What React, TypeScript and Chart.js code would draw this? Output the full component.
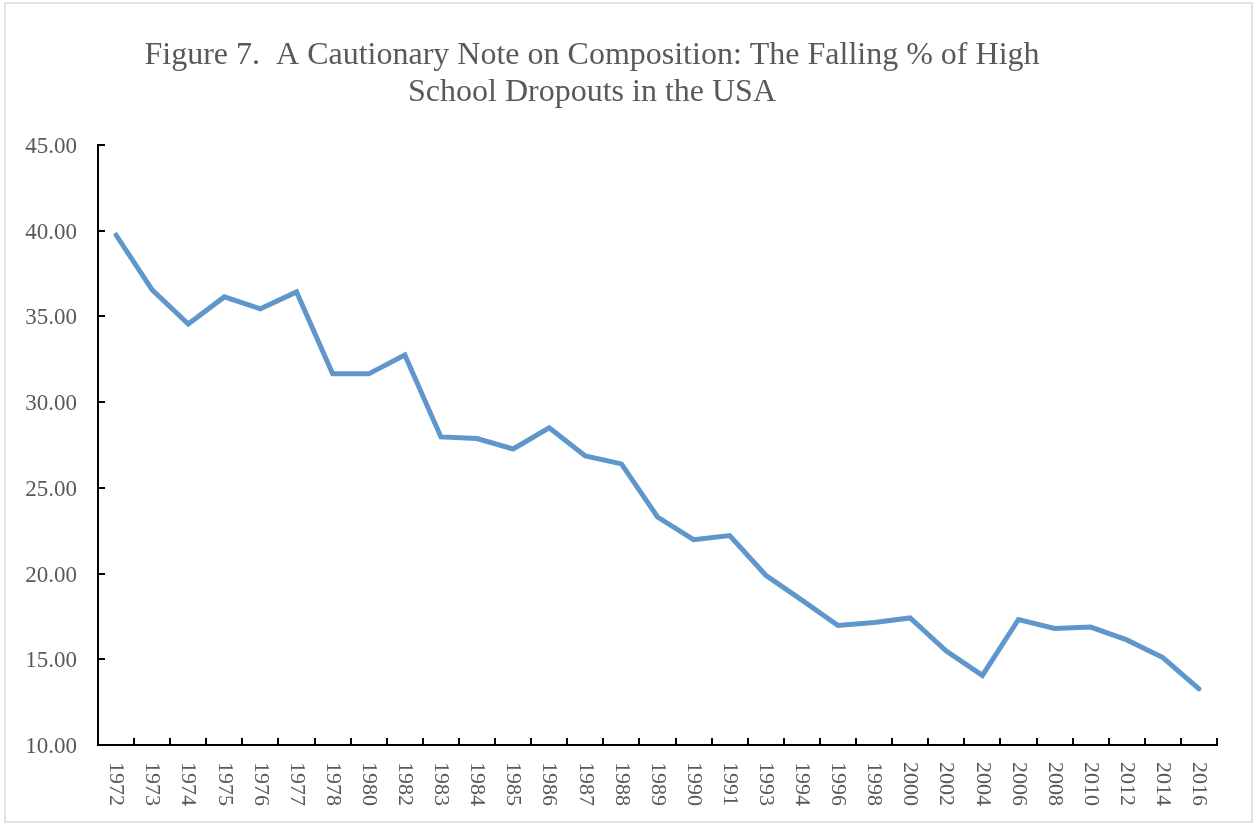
import React, { useEffect, useRef } from "react";
import { Chart, registerables } from "chart.js";

Chart.register(...registerables);

const titleLines = [
  "Figure 7.  A Cautionary Note on Composition: The Falling % of High",
  "School Dropouts in the USA",
];

const years = [
  "1972", "1973", "1974", "1975", "1976", "1977", "1978", "1980", "1982", "1983",
  "1984", "1985", "1986", "1987", "1988", "1989", "1990", "1991", "1993", "1994",
  "1996", "1998", "2000", "2002", "2004", "2006", "2008", "2010", "2012", "2014", "2016",
];

const dropoutPct = [
  39.75, 36.55, 34.56, 36.14, 35.44, 36.43, 31.65, 31.65, 32.75, 27.97,
  27.88, 27.27, 28.5, 26.86, 26.4, 23.3, 21.98, 22.22, 19.9, 18.45,
  16.97, 17.15, 17.41, 15.48, 14.06, 17.32, 16.8, 16.88, 16.13, 15.1, 13.27,
];

const yMin = 10;
const yMax = 45;
const yStep = 5;

const FONT = "'Liberation Serif', 'Times New Roman', serif";
const TEXT_COLOR = "#595959";

const titlePlugin = {
  id: "twoLineTitle",
  afterDraw(chart: any) {
    const ctx = chart.ctx;
    ctx.save();
    ctx.font = `32px ${FONT}`;
    ctx.fillStyle = TEXT_COLOR;
    ctx.textAlign = "center";
    ctx.textBaseline = "alphabetic";
    const cx = 592;
    titleLines.forEach((line, i) => {
      ctx.fillText(line, cx, 64 + i * 37);
    });
    ctx.restore();
  },
};

export default function App() {
  const canvasRef = useRef<HTMLCanvasElement | null>(null);

  useEffect(() => {
    const canvas = canvasRef.current;
    if (!canvas) return;
    const chart = new Chart(canvas, {
      type: "line",
      data: {
        labels: years,
        datasets: [
          {
            data: dropoutPct,
            borderColor: "#5F96CB",
            borderWidth: 5,
            pointRadius: 0,
            tension: 0,
            fill: false,
            borderCapStyle: "round",
            borderJoinStyle: "miter",
          },
        ],
      },
      options: {
        animation: false,
        responsive: false,
        devicePixelRatio: 1,
        layout: { padding: { top: 145, left: 0, right: 36, bottom: 0 } },
        plugins: {
          legend: { display: false },
          title: { display: false },
          tooltip: { enabled: false },
        },
        scales: {
          x: {
            type: "category",
            offset: true,
            grid: {
              display: true,
              drawOnChartArea: false,
              drawTicks: true,
              tickLength: -7,
              offset: true,
              color: "#000000",
              lineWidth: 2,
            },
            border: { display: true, color: "#000000", width: 2 },
            ticks: {
              autoSkip: false,
              minRotation: -90,
              maxRotation: -90,
              padding: 68,
              color: TEXT_COLOR,
              font: { family: FONT, size: 22 },
            },
            afterFit: (scale: any) => {
              scale.height = 80;
            },
          },
          y: {
            min: yMin,
            max: yMax,
            grid: {
              display: true,
              drawOnChartArea: false,
              drawTicks: true,
              tickLength: -7,
              color: "#000000",
              lineWidth: 2,
            },
            border: { display: true, color: "#000000", width: 2 },
            ticks: {
              stepSize: yStep,
              padding: 28,
              labelOffset: 2,
              color: TEXT_COLOR,
              font: { family: FONT, size: 23 },
              callback: (v: any) => Number(v).toFixed(2),
            },
            afterFit: (scale: any) => {
              scale.width = 98;
            },
          },
        },
      },
      plugins: [titlePlugin],
    });
    return () => chart.destroy();
  }, []);

  return (
    <div
      style={{
        position: "fixed",
        left: 0,
        top: 0,
        width: 1253,
        height: 825,
        background: "#ffffff",
        overflow: "hidden",
      }}
    >
      <div
        style={{
          position: "absolute",
          left: 4,
          top: 2,
          width: 1249,
          height: 821,
          boxSizing: "border-box",
          border: "2px solid #e2e2e2",
        }}
      />
      <canvas
        ref={canvasRef}
        width={1253}
        height={825}
        style={{ position: "absolute", left: 0, top: 0, width: 1253, height: 825 }}
      />
    </div>
  );
}
